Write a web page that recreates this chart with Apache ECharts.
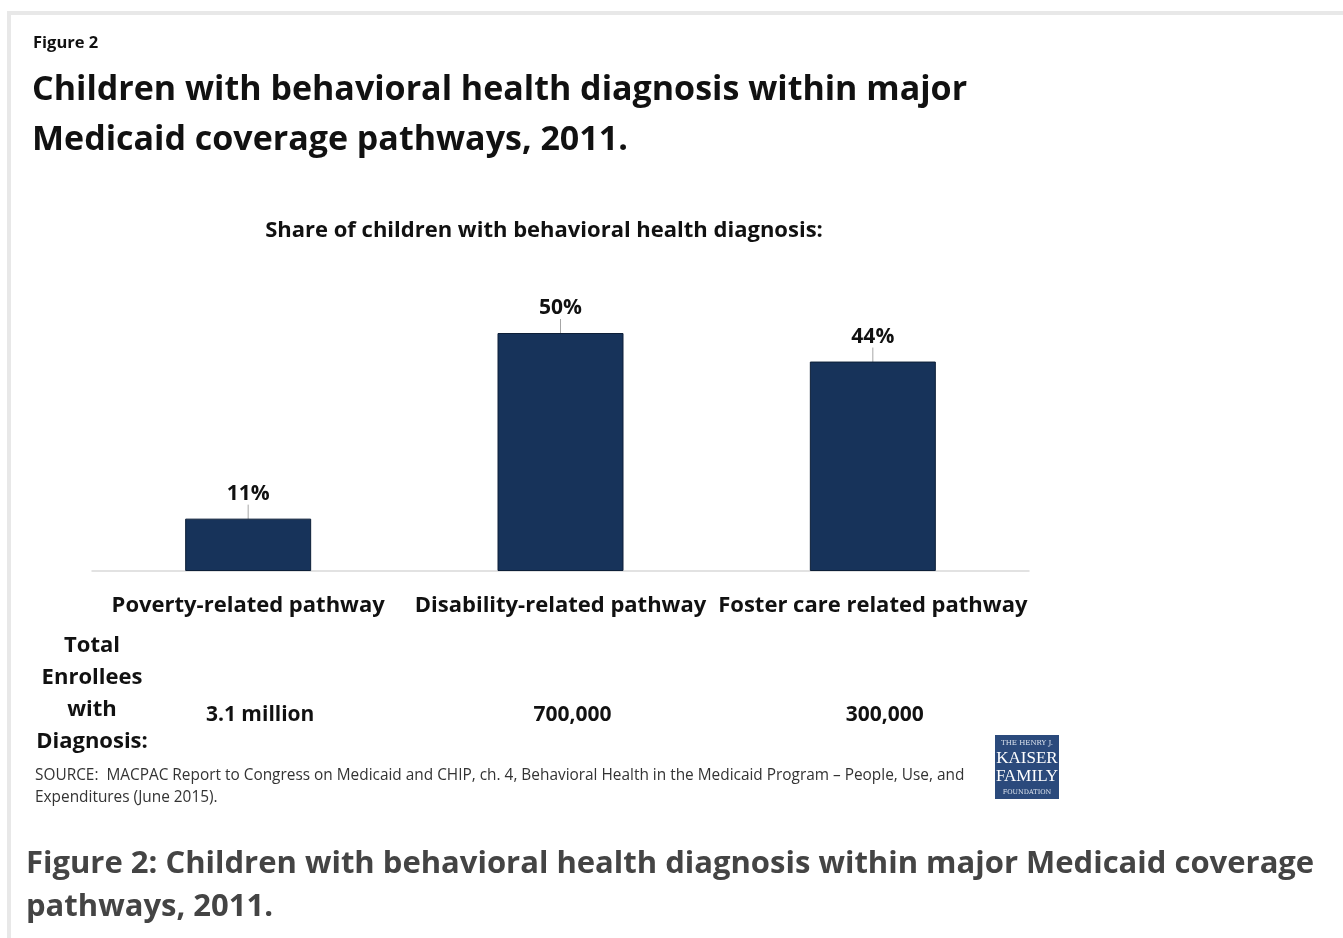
<!DOCTYPE html>
<html>
<head>
<meta charset="utf-8">
<script src="https://cdn.jsdelivr.net/npm/echarts@6/dist/echarts.min.js"></script>
<style>
  html, body { margin: 0; padding: 0; background: #ffffff; }
  #chart { width: 1343px; height: 938px; }
</style>
</head>
<body>
<div id="chart"></div>
<script>
// Medicaid coverage pathways for children
const pathways = ['Poverty-related pathway', 'Disability-related pathway', 'Foster care related pathway'];
// Share of children with a behavioral health diagnosis (%)
const shareDiagnosed = [11, 50, 44];
// Total enrollees with a diagnosis, per pathway
const enrolleesWithDiagnosis = ['3.1 million', '700,000', '300,000'];

const chartFont = '"Open Sans", Lato, sans-serif';
const barColor = '#17335a';

const chart = echarts.init(document.getElementById('chart'), null, { renderer: 'canvas' });

chart.setOption({
  backgroundColor: '#ffffff',
  animation: false,
  grid: { left: 92, right: 314, top: 285.4, bottom: 367, containLabel: false },
  xAxis: [
    {
      type: 'category',
      data: pathways,
      axisLine: { show: true, lineStyle: { color: '#d9d9d9', width: 1.5 } },
      axisTick: { show: false },
      axisLabel: {
        margin: 24,
        fontFamily: chartFont,
        fontWeight: 'bold',
        fontSize: 22,
        color: '#111111',
        interval: 0
      }
    },
    {
      type: 'category',
      position: 'bottom',
      data: enrolleesWithDiagnosis,
      axisLine: { show: false },
      axisTick: { show: false },
      axisLabel: {
        margin: 134,
        fontFamily: chartFont,
        fontWeight: 'bold',
        fontSize: 21,
        color: '#111111',
        interval: 0,
        padding: [0, 0, 0, 24]
      }
    }
  ],
  yAxis: {
    type: 'value',
    min: 0,
    max: 60,
    show: false,
    splitLine: { show: false }
  },
  series: [
    {
      type: 'bar',
      data: shareDiagnosed,
      barWidth: 126,
      itemStyle: { color: barColor, borderColor: '#0d1f38', borderWidth: 1 },
      label: {
        show: true,
        position: 'top',
        distance: 4,
        formatter: '{c}%',
        fontFamily: chartFont,
        fontWeight: 'bold',
        fontSize: 21,
        color: '#111111'
      },
      labelLayout: { dy: -10 },
      labelLine: { show: true, length2: 0, lineStyle: { color: '#a6a6a6', width: 1 } }
    }
  ],
  graphic: [
    // page frame: light grey top and left edges
    { type: 'rect', shape: { x: 7, y: 11, width: 1336, height: 4 }, style: { fill: '#e8e8e8' }, silent: true },
    { type: 'rect', shape: { x: 7, y: 11, width: 4, height: 927 }, style: { fill: '#e8e8e8' }, silent: true },
    {
      type: 'text', left: 33, top: 35,
      style: { text: 'Figure 2', font: 'bold 16.5px ' + chartFont, fill: '#111111' }
    },
    {
      type: 'text', left: 32, top: 65,
      style: {
        text: 'Children with behavioral health diagnosis within major\nMedicaid coverage pathways, 2011.',
        font: 'bold 34px ' + chartFont, fill: '#111111', lineHeight: 50
      }
    },
    {
      type: 'text', x: 544, y: 231,
      style: {
        text: 'Share of children with behavioral health diagnosis:',
        font: 'bold 22px ' + chartFont, fill: '#111111', align: 'center', verticalAlign: 'middle'
      }
    },
    {
      type: 'text', x: 92, y: 694,
      style: {
        text: 'Total\nEnrollees\nwith\nDiagnosis:',
        font: 'bold 22px ' + chartFont, fill: '#111111', align: 'center', verticalAlign: 'middle',
        lineHeight: 32
      }
    },
    {
      type: 'text', left: 35, top: 765,
      style: {
        text: 'SOURCE:  MACPAC Report to Congress on Medicaid and CHIP, ch. 4, Behavioral Health in the Medicaid Program \u2013 People, Use, and\nExpenditures (June 2015).',
        font: '15.4px ' + chartFont, fill: '#333333', lineHeight: 22
      }
    },
    // foundation logo
    {
      type: 'group', left: 995, top: 735,
      children: [
        { type: 'rect', shape: { x: 0, y: 0, width: 64, height: 64 }, style: { fill: '#2b4a7c' } },
        { type: 'text', x: 32, y: 8, style: { text: 'THE HENRY J.', font: '7px "DejaVu Serif", serif', fill: '#dfe6f0', align: 'center', verticalAlign: 'middle' } },
        { type: 'text', x: 32, y: 24, style: { text: 'KAISER', font: '17px "Liberation Serif", serif', fill: '#ffffff', align: 'center', verticalAlign: 'middle' } },
        { type: 'text', x: 32, y: 42, style: { text: 'FAMILY', font: '17px "Liberation Serif", serif', fill: '#ffffff', align: 'center', verticalAlign: 'middle' } },
        { type: 'text', x: 32, y: 57, style: { text: 'FOUNDATION', font: '6.5px "DejaVu Serif", serif', fill: '#dfe6f0', align: 'center', verticalAlign: 'middle' } }
      ]
    },
    {
      type: 'text', left: 26, top: 843,
      style: {
        text: 'Figure 2: Children with behavioral health diagnosis within major Medicaid coverage\npathways, 2011.',
        font: 'bold 31px "Open Sans", sans-serif', fill: '#444444', lineHeight: 43
      }
    }
  ]
});
</script>
</body>
</html>
